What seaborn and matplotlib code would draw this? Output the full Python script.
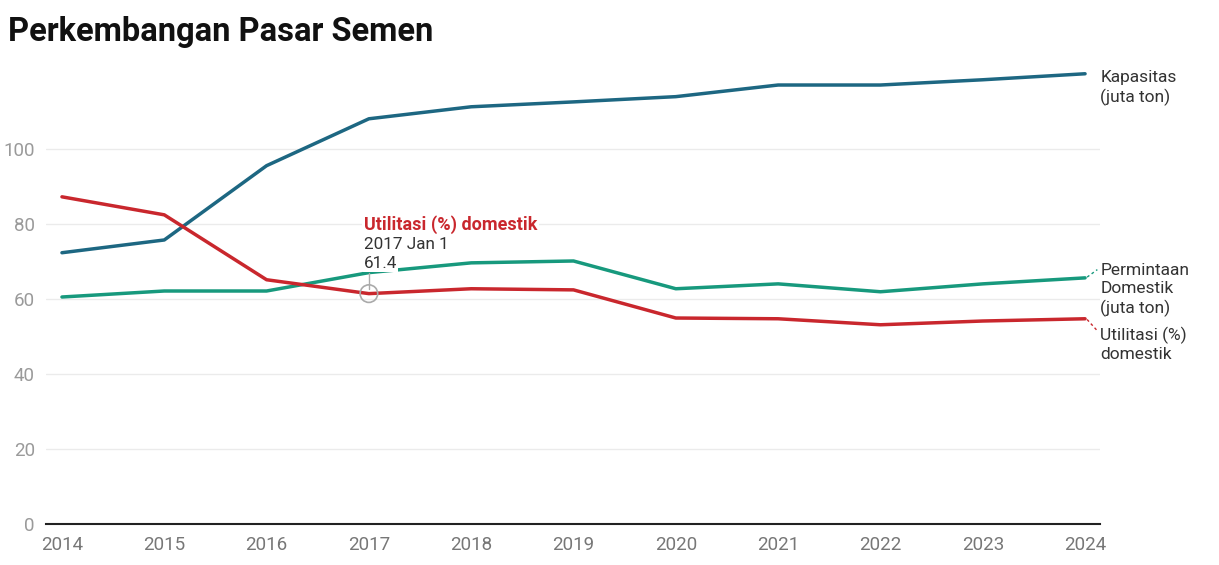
import pandas as pd
import matplotlib.pyplot as plt
import seaborn as sns

years = [2014, 2015, 2016, 2017, 2018, 2019, 2020, 2021, 2022, 2023, 2024]
kapasitas = [72.3, 75.7, 95.5, 108.0, 111.2, 112.5, 113.9, 117.0, 117.0, 118.4, 120.0]
permintaan = [60.5, 62.1, 62.1, 67.0, 69.6, 70.1, 62.7, 64.0, 61.9, 64.0, 65.6]
utilitasi = [87.2, 82.4, 65.1, 61.4, 62.7, 62.4, 54.9, 54.7, 53.1, 54.1, 54.7]

series_names = ["Kapasitas (juta ton)", "Permintaan Domestik (juta ton)", "Utilitasi (%) domestik"]
end_labels = ["Kapasitas\n(juta ton)", "Permintaan\nDomestik\n(juta ton)", "Utilitasi (%)\ndomestik"]
colors = ["#1d6782", "#17997d", "#c9272d"]

df = pd.DataFrame({
    "Tahun": years * 3,
    "Nilai": kapasitas + permintaan + utilitasi,
    "Seri": [series_names[0]] * 11 + [series_names[1]] * 11 + [series_names[2]] * 11,
})

sns.set_theme(style="white")
plt.rcParams['font.family'] = ['Roboto', 'DejaVu Sans']

fig = plt.figure(figsize=(12.19, 5.65), dpi=100)
ax = fig.add_axes([46 / 1219, 41 / 565, 1054 / 1219, 469 / 565])

sns.lineplot(data=df, x="Tahun", y="Nilai", hue="Seri", palette=colors,
             linewidth=2.5, legend=False, ax=ax)

ax.set_xlim(2014 - 0.156, 2024 + 0.146)
ax.set_ylim(0, 125)
ax.set_yticks([0, 20, 40, 60, 80, 100])
ax.set_xticks(years)
ax.set_xlabel("")
ax.set_ylabel("")
ax.grid(axis="y", color="#ebebeb", linewidth=1)
ax.set_axisbelow(True)
for s in ["top", "right", "left"]:
    ax.spines[s].set_visible(False)
ax.spines["bottom"].set_color("#222222")
ax.spines["bottom"].set_linewidth(1.5)
ax.tick_params(axis="y", length=0, pad=8, labelsize=13.5, labelcolor="#9a9a9a")
ax.tick_params(axis="x", length=0, pad=9, labelsize=13.5, labelcolor="#777777")

# end labels with small dashed connectors
label_top = [120.9, 69.5, 52.6]
for name, ly in zip(end_labels, label_top):
    ax.text(2024.15, ly, name, fontsize=12.5, color="#333333", va="top", ha="left",
            linespacing=1.25, clip_on=False)
ax.plot([2024.02, 2024.12], [permintaan[-1] + 0.2, 67.8], ls=(0, (2, 2)), color=colors[1], lw=1, clip_on=False)
ax.plot([2024.02, 2024.12], [utilitasi[-1] - 0.2, 51.5], ls=(0, (2, 2)), color=colors[2], lw=1, clip_on=False)

# tooltip at 2017
ax.plot([2017, 2017], [utilitasi[3] + 1.2, 67.0], color="#aaaaaa", lw=1)
ax.scatter([2017], [utilitasi[3]], s=160, facecolors="none", edgecolors="#aaaaaa", linewidths=1.2, zorder=5)
ax.text(2016.95, 79.8, "Utilitasi (%) domestik", fontsize=13, fontweight="bold", color=colors[2],
        va="center", ha="left", bbox=dict(facecolor="white", edgecolor="none", pad=1))
ax.text(2016.95, 74.4, "2017 Jan 1", fontsize=12.3, color="#333333", va="center", ha="left")
ax.text(2016.95, 69.3, f"{utilitasi[3]:.1f}", fontsize=12.3, color="#333333", va="center", ha="left",
        bbox=dict(facecolor="white", edgecolor="none", pad=0.5))

fig.text(8 / 1219, 1 - 32 / 565, "Perkembangan Pasar Semen", fontsize=23.5, fontweight="bold",
         color="#111111", va="center", ha="left")

fig.savefig("out.png", dpi=100)
